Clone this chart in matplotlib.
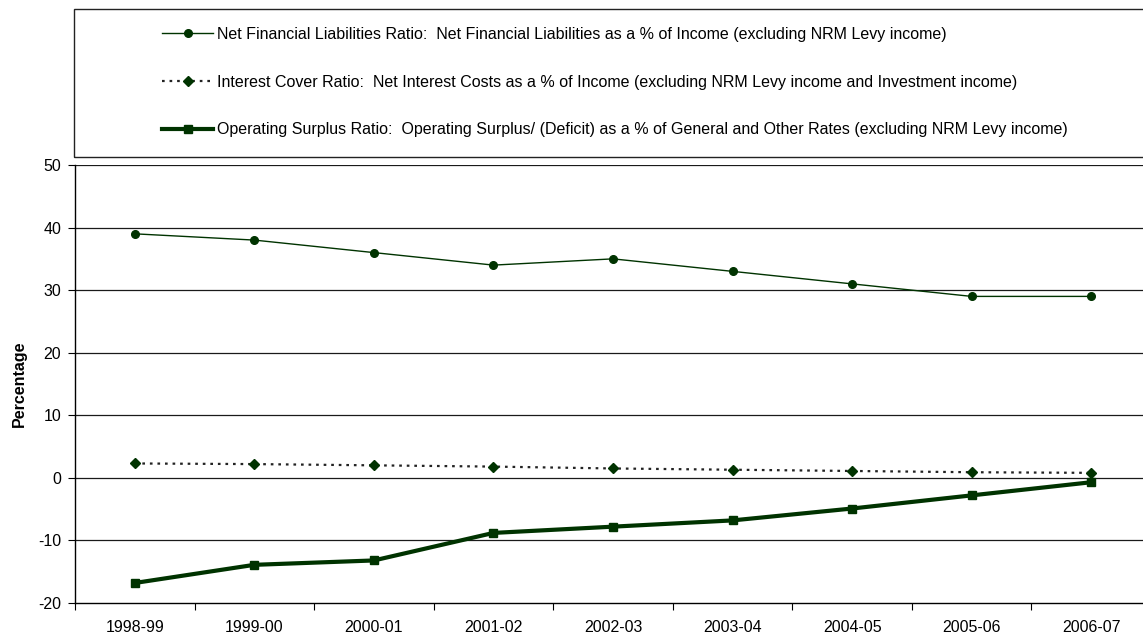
import matplotlib.pyplot as plt
from matplotlib.patches import Rectangle

plt.rcParams['font.family'] = ['Liberation Sans', 'DejaVu Sans']
plt.rcParams['font.size'] = 11.5
plt.rcParams['axes.unicode_minus'] = False

# Financial sustainability ratios by year
years = ['1998-99', '1999-00', '2000-01', '2001-02', '2002-03',
         '2003-04', '2004-05', '2005-06', '2006-07']
net_fin_liab = [39, 38, 36, 34, 35, 33, 31, 29, 29]
interest_cover = [2.3, 2.2, 2.0, 1.8, 1.5, 1.3, 1.1, 0.9, 0.8]
op_surplus = [-16.8, -13.9, -13.2, -8.8, -7.8, -6.8, -4.9, -2.8, -0.7]

labels = [
    'Net Financial Liabilities Ratio:  Net Financial Liabilities as a % of Income (excluding NRM Levy income)',
    'Interest Cover Ratio:  Net Interest Costs as a % of Income (excluding NRM Levy income and Investment income)',
    'Operating Surplus Ratio:  Operating Surplus/ (Deficit) as a % of General and Other Rates (excluding NRM Levy income)',
]

green = '#003300'
W, H = 1143, 635
fig = plt.figure(figsize=(W / 100, H / 100), dpi=100)

# plot area runs slightly past the right edge of the figure
ax = fig.add_axes([75 / W, (H - 603) / H, (1151 - 75) / W, (603 - 165) / H])
x = list(range(len(years)))

l1, = ax.plot(x, net_fin_liab, color=green, lw=1.0, marker='o', ms=5.5,
              mfc=green, mec=green)
l2, = ax.plot(x, interest_cover, color='#222222', lw=1.6, ls=(0, (1.2, 2.2)),
              marker='D', ms=5, mfc=green, mec=green)
l3, = ax.plot(x, op_surplus, color=green, lw=3.0, marker='s', ms=6,
              mfc=green, mec=green)

ax.set_xlim(-0.5, len(years) - 0.5)
ax.set_ylim(-20, 50)
ax.set_yticks(range(-20, 51, 10))
ax.set_xticks(x)
ax.set_xticklabels(years)
ax.set_xticks([i - 0.5 for i in range(len(years) + 1)], minor=True)
ax.tick_params(axis='x', which='major', length=0, pad=12)
ax.tick_params(axis='x', which='minor', length=5, width=0.8, direction='out')
ax.tick_params(axis='y', length=5, width=0.8, direction='out', pad=5)

for v in range(-10, 51, 10):
    ax.axhline(v, color='#1a1a1a', lw=0.9, zorder=0)

for s in ['top', 'right']:
    ax.spines[s].set_visible(False)
ax.spines['left'].set_linewidth(1.0)
ax.spines['bottom'].set_linewidth(1.0)

ax.set_ylabel('Percentage', fontweight='bold')
ax.yaxis.set_label_coords(-0.0446, 0.5)

# legend box above the plot
fig.patches.append(Rectangle((74 / W, (H - 157) / H), (1160 - 74) / W, (157 - 9) / H,
                             transform=fig.transFigure, fill=False,
                             edgecolor='#222222', lw=1.0))
fig.legend([l1, l2, l3], labels, loc='center',
           bbox_to_anchor=(615 / W, (H - 82) / H), frameon=False,
           handlelength=3.2, handletextpad=0.25, labelspacing=2.05,
           fontsize=11.5)

fig.savefig('out.png', dpi=100)
